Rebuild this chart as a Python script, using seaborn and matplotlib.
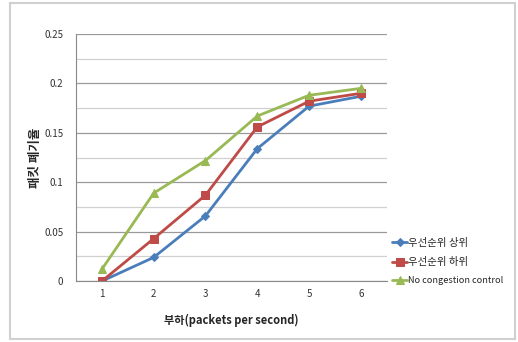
import numpy as np
import pandas as pd
import seaborn as sns
import matplotlib.pyplot as plt
from matplotlib.patches import Rectangle

# Data
loads = [1, 2, 3, 4, 5, 6]
high_prio = [0.0, 0.024, 0.066, 0.134, 0.177, 0.187]
low_prio = [0.0, 0.043, 0.087, 0.156, 0.182, 0.190]
no_control = [0.012, 0.089, 0.122, 0.167, 0.188, 0.195]
series_names = ["우선순위 상위", "우선순위 하위", "No congestion control"]

df = pd.DataFrame({"load": loads * 3,
                   "rate": high_prio + low_prio + no_control,
                   "series": [n for n in series_names for _ in loads]})

sns.set_style("white")
plt.rcParams['font.family'] = ['Noto Sans CJK KR', 'DejaVu Sans']

fig = plt.figure(figsize=(5.18, 3.42), dpi=100)
ax = fig.add_axes([0.1467, 0.178, 0.600, 0.7226])

colors = ["#4a7ebb", "#be4b48", "#98b954"]
markers = ["D", "s", "^"]
sizes = [4, 6, 6]
for name, clr, mk, ms in zip(series_names, colors, markers, sizes):
    sub = df[df["series"] == name]
    sns.lineplot(data=sub, x="load", y="rate", ax=ax, color=clr, marker=mk,
                 markersize=ms, markeredgecolor=clr, linewidth=2, label=name)

ax.set_xlim(0.5, 6.5)
ax.set_ylim(0, 0.25)
ax.set_xticks(loads)
ax.set_xticklabels([str(v) for v in loads])
ax.set_yticks(np.arange(0, 0.2501, 0.05))
ax.set_yticklabels(["0", "0.05", "0.1", "0.15", "0.2", "0.25"])
ax.set_yticks(np.arange(0.025, 0.25, 0.05), minor=True)
ax.grid(True, which="major", axis="y", color="#9a9a9a", linewidth=0.9)
ax.grid(True, which="minor", axis="y", color="#d0d0d0", linewidth=0.9)
ax.set_axisbelow(True)
ax.tick_params(axis="both", labelsize=7, colors="#333333", length=0, pad=6)
ax.tick_params(axis="y", which="major", length=3, color="#888888", direction="out")
ax.tick_params(axis="y", which="minor", length=0)

for s in ["top", "right"]:
    ax.spines[s].set_visible(False)
ax.spines["left"].set_color("#888888")
ax.spines["bottom"].set_color("#888888")

ax.set_xlabel("부하(packets per second)", fontsize=8, fontweight="bold", labelpad=10)
ax.set_ylabel("패킷 폐기율", fontsize=9, fontweight="bold")
ax.yaxis.set_label_coords(-0.11, 0.5)

leg = ax.legend(loc="center left", bbox_to_anchor=(1.0, 0.08), frameon=False,
                fontsize=6.6, handlelength=1.6, handletextpad=0.15,
                labelspacing=1.0, borderaxespad=0.2)
for txt in leg.get_texts()[:2]:
    txt.set_fontsize(7.5)

fig.patches.append(Rectangle((0.02, 0.008), 0.975, 0.982, transform=fig.transFigure,
                             fill=False, edgecolor="#d0d0d0", linewidth=1.5))

fig.savefig("out.png", dpi=100)
plt.close(fig)
